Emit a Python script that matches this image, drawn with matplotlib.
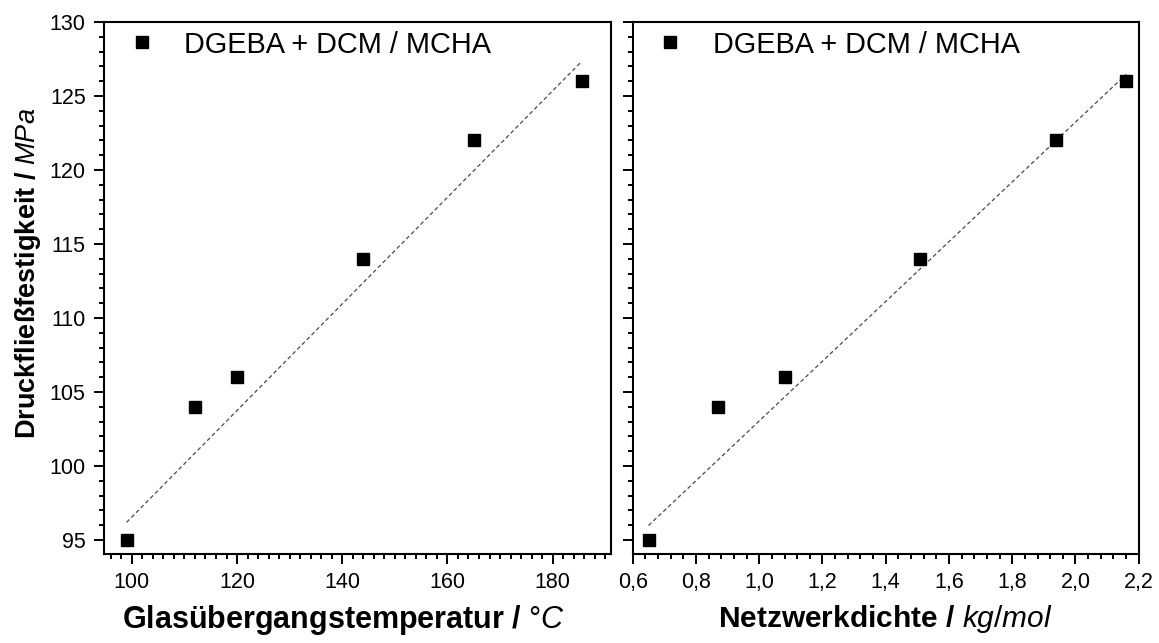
import matplotlib
matplotlib.use("Agg")
import matplotlib.pyplot as plt
import numpy as np
from matplotlib.ticker import MultipleLocator, FuncFormatter

plt.rcParams['font.family'] = ['Liberation Sans', 'DejaVu Sans']
plt.rcParams['mathtext.fontset'] = 'custom'
plt.rcParams['mathtext.it'] = 'Liberation Sans:italic'
plt.rcParams['mathtext.rm'] = 'Liberation Sans'
plt.rcParams['mathtext.bf'] = 'Liberation Sans:bold'

# Messwerte
tg = [99, 112, 120, 144, 165, 185.5]           # Glasuebergangstemperatur / °C
netz = [0.65, 0.87, 1.08, 1.51, 1.94, 2.16]    # Netzwerkdichte / kg/mol
festigkeit = [95, 104, 106, 114, 122, 126]     # Druckfliessfestigkeit / MPa

# Ausgleichsgeraden (Steigung, Achsenabschnitt)
fit_tg = [0.36, 60.55]
fit_netz = [20.19, 82.85]

legende = 'DGEBA + DCM / MCHA'

fig = plt.figure(figsize=(11.59, 6.43), dpi=100)
ax1 = fig.add_axes([0.0897, 0.1384, 0.4375, 0.8274])
ax2 = fig.add_axes([0.5459, 0.1384, 0.4366, 0.8274], sharey=ax1)

def zeichne(ax, x, y, fit):
    xs = np.array([min(x), max(x)])
    ax.plot(xs, fit[0] * xs + fit[1], color='#4a4a4a', lw=0.9,
            linestyle=(0, (3.2, 2.2)), zorder=1)
    ax.plot(x, y, 's', color='black', markersize=8.4, label=legende, zorder=2)
    for s in ax.spines.values():
        s.set_linewidth(1.5)
    ax.tick_params(which='both', direction='out', width=1.4, top=False, right=False,
                   labelsize=15.5, pad=6)
    ax.tick_params(which='major', length=7.2)
    ax.tick_params(which='minor', length=3.6)
    ax.legend(loc='upper left', bbox_to_anchor=(0.047, 0.984), frameon=False,
              handlelength=0.96, handletextpad=1.0, borderaxespad=0, borderpad=0,
              fontsize=20.8, numpoints=1)

zeichne(ax1, tg, festigkeit, fit_tg)
zeichne(ax2, netz, festigkeit, fit_netz)

ax1.set_ylim(94.05, 130)
ax1.yaxis.set_major_locator(MultipleLocator(5))
ax1.yaxis.set_minor_locator(MultipleLocator(1))

ax1.set_xlim(94.7, 191.1)
ax1.xaxis.set_major_locator(MultipleLocator(20))
ax1.xaxis.set_minor_locator(MultipleLocator(2))

ax2.set_xlim(0.6, 2.2)
ax2.xaxis.set_major_locator(MultipleLocator(0.2))
ax2.xaxis.set_minor_locator(MultipleLocator(0.04))
ax2.xaxis.set_major_formatter(FuncFormatter(lambda v, p: f'{v:.1f}'.replace('.', ',')))
ax2.tick_params(axis='y', labelleft=False)

ax1.set_ylabel(r'$\mathbf{Druckflie\ss festigkeit\ /\ }\mathit{MPa}$', fontsize=19.5, labelpad=5)
ax1.yaxis.label.set_y(0.528)
ax1.set_xlabel(r'$\mathbf{Glasübergangstemperatur\ /\ }\mathit{°C}$', fontsize=22, labelpad=7)
ax1.xaxis.label.set_x(0.473)
ax2.set_xlabel(r'$\mathbf{Netzwerkdichte\ /\ }\mathit{kg/mol}$', fontsize=21.5, labelpad=7)

fig.savefig('out.png', dpi=100)
